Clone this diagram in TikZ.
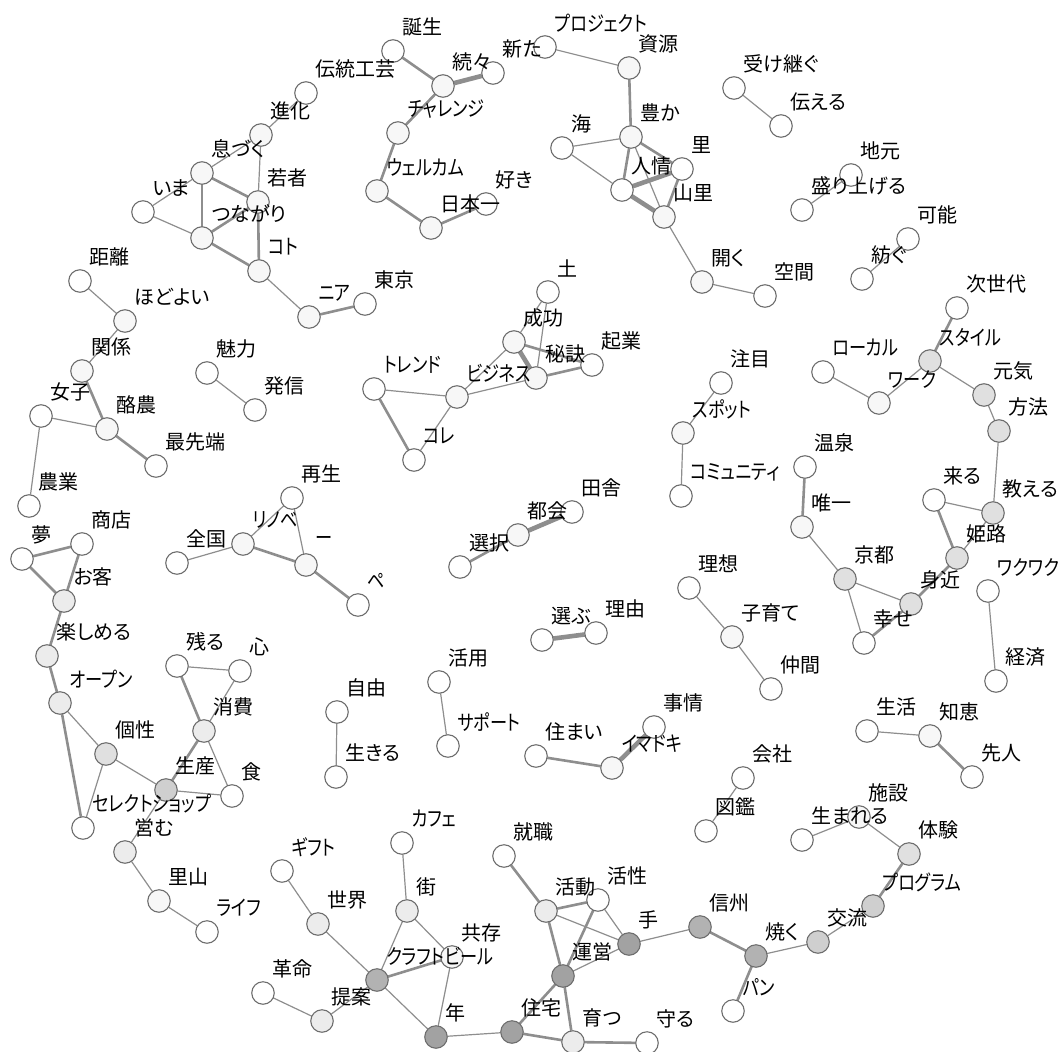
\documentclass[tikz,border=0pt]{standalone}
\usepackage{fontspec}
\newfontfamily\jpfont[RawFeature=+palt]{Noto Sans CJK JP}
\newfontfamily\kanafont[RawFeature=+palt, FakeStretch=0.82]{Noto Sans CJK JP}
\usetikzlibrary{backgrounds}
\pgfdeclarelayer{discs}
\pgfsetlayers{background,discs,main}
\definecolor{nodeline}{HTML}{6E6E6E}
\definecolor{edgegray}{HTML}{8E8E8E}
\definecolor{c0}{HTML}{FFFFFF}
\definecolor{c1}{HTML}{F7F7F7}
\definecolor{c2}{HTML}{ECECEC}
\definecolor{c3}{HTML}{E0E0E0}
\definecolor{c4}{HTML}{CFCFCF}
\definecolor{c5}{HTML}{B2B2B2}
\definecolor{c6}{HTML}{A2A2A2}
\tikzset{
  disc/.style={draw=nodeline, line width=1.1pt},
  term/.style={circle, minimum size=22.5pt, inner sep=0pt,
    append after command={\pgfextra{\begin{pgfonlayer}{discs}\draw[disc, fill=#1] (\tikzlastnode.center) circle[radius=11.25pt];\end{pgfonlayer}}}},
  kwtext/.style={font=\jpfont\fontsize{20}{20}\selectfont, inner sep=0pt, xshift=-2pt, yshift=24pt},
  kanatext/.style={kwtext, font=\kanafont\fontsize{21}{21}\selectfont},
  kw/.style 2 args={term=#1, label={[kwtext]0:#2}},
  kwk/.style 2 args={term=#1, label={[kanatext]0:#2}},
  wthin/.style={draw=edgegray, line width=1.2pt},
  wmid/.style={draw=edgegray, line width=2.6pt},
  wthick/.style={draw=edgegray, line width=4.6pt}
}

\begin{document}
\begin{tikzpicture}[x=1pt, y=-1pt]
  \useasboundingbox (0,0) rectangle (1061,1052);
  % upper left
  \node[kw={c0}{伝統工芸}] (dentou) at (306,93) {};
  \node[kw={c1}{進化}] (shinka) at (261,135) {};
  \node[kw={c1}{息づく}] (ikiduku) at (202,173) {};
  \node[kw={c1}{若者}] (wakamono) at (258,202) {};
  \node[kw={c0}{いま}] (ima) at (143,212) {};
  \node[kw={c1}{つながり}] (tsunagari) at (202,238) {};
  \node[kwk={c1}{コト}] (koto) at (259,271) {};
  \node[kwk={c1}{ニア}] (nia) at (309,317) {};
  \node[kw={c0}{東京}] (tokyo) at (365,304) {};
  \node[kw={c0}{距離}] (kyori) at (80,281) {};
  \node[kw={c1}{ほどよい}] (hodoyoi) at (125,321) {};
  \node[kw={c1}{関係}] (kankei) at (82,371) {};
  \node[kw={c0}{女子}] (joshi) at (41,416) {};
  \node[kw={c1}{酪農}] (rakunou) at (107,429) {};
  \node[kw={c0}{最先端}] (saisentan) at (156,466) {};
  \node[kw={c0}{農業}] (nougyou) at (29,506) {};
  \node[kw={c0}{魅力}] (miryoku) at (207,373) {};
  \node[kw={c0}{発信}] (hasshin) at (255,410) {};
  % renovation
  \node[kw={c0}{再生}] (saisei) at (292,498) {};
  \node[kw={c0}{全国}] (zenkoku) at (177,563) {};
  \node[kwk={c1}{リノベ}] (rinobe) at (243,544) {};
  \node[kwk={c1}{ー}] (bou) at (306,565) {};
  \node[kwk={c0}{ペ}] (pe) at (358,605) {};
  % left column
  \node[kw={c0}{夢}] (yume) at (22,559) {};
  \node[kw={c0}{商店}] (shouten) at (82,544) {};
  \node[kw={c2}{お客}] (okyaku) at (64,601) {};
  \node[kw={c2}{楽しめる}] (tanoshimu) at (47,656) {};
  \node[kwk={c2}{オープン}] (oupun) at (60,703) {};
  \node[kw={c3}{個性}] (kosei) at (106,754) {};
  \node[kwk={c0}{セレクトショップ}] (select) at (83,828) {};
  \node[kw={c4}{生産}] (seisan) at (166,790) {};
  \node[kw={c2}{消費}] (shouhi) at (204,731) {};
  \node[kw={c0}{残る}] (nokoru) at (177,666) {};
  \node[kw={c0}{心}] (kokoro) at (240,671) {};
  \node[kw={c0}{食}] (shoku) at (232,796) {};
  \node[kw={c2}{営む}] (itonamu) at (125,852) {};
  \node[kw={c1}{里山}] (satoyama) at (159,901) {};
  \node[kwk={c0}{ライフ}] (raifu) at (207,932) {};
  % challenge
  \node[kw={c0}{誕生}] (tanjou) at (393,51) {};
  \node[kw={c1}{続々}] (zokuzoku) at (443,86) {};
  \node[kw={c0}{新た}] (arata) at (493,73) {};
  \node[kwk={c1}{チャレンジ}] (challenge) at (398,133) {};
  \node[kwk={c1}{ウェルカム}] (welcome) at (377,191) {};
  \node[kw={c1}{日本一}] (nihonichi) at (431,228) {};
  \node[kw={c0}{好き}] (suki) at (486,204) {};
  % resources
  \node[kwk={c0}{プロジェクト}] (project) at (545,47) {};
  \node[kw={c1}{資源}] (shigen) at (629,68) {};
  \node[kw={c1}{豊か}] (yutaka) at (631,137) {};
  \node[kw={c0}{海}] (umi) at (562,148) {};
  \node[kw={c0}{里}] (sato) at (682,169) {};
  \node[kw={c0}{人情}] (ninjou) at (622,190) {};
  \node[kw={c1}{山里}] (yamazato) at (664,217) {};
  \node[kw={c1}{開く}] (hiraku) at (702,282) {};
  \node[kw={c0}{空間}] (kuukan) at (765,296) {};
  % upper right
  \node[kw={c0}{受け継ぐ}] (uketsugu) at (734,88) {};
  \node[kw={c0}{伝える}] (tsutaeru) at (781,126) {};
  \node[kw={c0}{地元}] (jimoto) at (851,175) {};
  \node[kw={c0}{盛り上げる}] (moriageru) at (802,210) {};
  \node[kw={c0}{可能}] (kanou) at (908,239) {};
  \node[kw={c0}{紡ぐ}] (tsumugu) at (862,279) {};
  % business
  \node[kw={c0}{土}] (tsuchi) at (548,292) {};
  \node[kw={c1}{成功}] (seikou) at (514,342) {};
  \node[kw={c0}{起業}] (kigyou) at (592,365) {};
  \node[kw={c1}{秘訣}] (hiketsu) at (536,378) {};
  \node[kwk={c1}{ビジネス}] (business) at (457,397) {};
  \node[kwk={c0}{トレンド}] (trend) at (374,389) {};
  \node[kwk={c0}{コレ}] (kore) at (414,460) {};
  % centre
  \node[kw={c0}{田舎}] (inaka) at (572,512) {};
  \node[kw={c1}{都会}] (tokai) at (518,535) {};
  \node[kw={c0}{選択}] (sentaku) at (460,567) {};
  \node[kw={c0}{選ぶ}] (erabu) at (542,640) {};
  \node[kw={c0}{理由}] (riyuu) at (596,633) {};
  \node[kw={c0}{注目}] (chuumoku) at (721,383) {};
  \node[kwk={c1}{スポット}] (spot) at (683,433) {};
  \node[kwk={c0}{コミュニティ}] (community) at (681,496) {};
  \node[kw={c0}{理想}] (risou) at (689,588) {};
  \node[kw={c1}{子育て}] (kosodate) at (732,637) {};
  \node[kw={c0}{仲間}] (nakama) at (771,689) {};
  \node[kw={c0}{自由}] (jiyuu) at (337,712) {};
  \node[kw={c0}{生きる}] (ikiru) at (336,777) {};
  \node[kw={c0}{活用}] (katsuyou) at (439,682) {};
  \node[kwk={c0}{サポート}] (support) at (448,746) {};
  \node[kw={c0}{住まい}] (sumai) at (536,756) {};
  \node[kwk={c1}{イマドキ}] (imadoki) at (612,768) {};
  \node[kw={c0}{事情}] (jijou) at (654,727) {};
  % right
  \node[kwk={c0}{ローカル}] (local) at (823,372) {};
  \node[kwk={c1}{ワーク}] (work) at (879,403) {};
  \node[kwk={c3}{スタイル}] (style) at (930,361) {};
  \node[kw={c0}{次世代}] (jisedai) at (957,308) {};
  \node[kw={c3}{元気}] (genki) at (984,395) {};
  \node[kw={c3}{方法}] (houhou) at (999,431) {};
  \node[kw={c3}{教える}] (oshieru) at (993,513) {};
  \node[kw={c0}{来る}] (kuru) at (934,500) {};
  \node[kw={c3}{姫路}] (himeji) at (957,558) {};
  \node[kw={c3}{身近}] (midika) at (911,604) {};
  \node[kw={c3}{京都}] (kyoto) at (845,579) {};
  \node[kw={c0}{幸せ}] (shiawase) at (864,643) {};
  \node[kw={c1}{唯一}] (yuiitsu) at (802,527) {};
  \node[kw={c0}{温泉}] (onsen) at (805,467) {};
  \node[kwk={c0}{ワクワク}] (wakuwaku) at (988,591) {};
  \node[kw={c0}{経済}] (keizai) at (996,681) {};
  \node[kw={c0}{生活}] (seikatsu) at (867,731) {};
  \node[kw={c1}{知恵}] (chie) at (930,736) {};
  \node[kw={c0}{先人}] (senjin) at (972,777) {};
  \node[kw={c0}{会社}] (kaisha) at (743,778) {};
  \node[kw={c0}{図鑑}] (zukan) at (706,831) {};
  % bottom
  \node[kwk={c0}{ギフト}] (gift) at (282,871) {};
  \node[kw={c2}{世界}] (sekai) at (318,924) {};
  \node[kw={c0}{革命}] (kakumei) at (263,993) {};
  \node[kw={c2}{提案}] (teian) at (322,1021) {};
  \node[kwk={c5}{クラフトビール}] (craft) at (377,980) {};
  \node[kw={c1}{共存}] (kyouzon) at (452,957) {};
  \node[kw={c2}{街}] (machi) at (407,911) {};
  \node[kwk={c0}{カフェ}] (cafe) at (402,843) {};
  \node[kw={c6}{年}] (toshi) at (436,1037) {};
  \node[kw={c6}{住宅}] (juutaku) at (512,1032) {};
  \node[kw={c2}{育つ}] (sodatsu) at (573,1042) {};
  \node[kw={c0}{守る}] (mamoru) at (647,1043) {};
  \node[kw={c6}{運営}] (unei) at (563,976) {};
  \node[kw={c2}{活動}] (katsudou) at (546,911) {};
  \node[kw={c0}{活性}] (kassei) at (598,900) {};
  \node[kw={c0}{就職}] (shuushoku) at (504,856) {};
  \node[kw={c6}{手}] (te) at (629,944) {};
  \node[kw={c5}{信州}] (shinshuu) at (700,927) {};
  \node[kw={c5}{焼く}] (yaku) at (756,956) {};
  \node[kwk={c0}{パン}] (pan) at (733,1011) {};
  \node[kw={c4}{交流}] (kouryuu) at (818,942) {};
  \node[kwk={c4}{プログラム}] (program) at (873,906) {};
  \node[kw={c3}{体験}] (taiken) at (909,854) {};
  \node[kw={c1}{施設}] (shisetsu) at (859,817) {};
  \node[kw={c0}{生まれる}] (umareru) at (802,840) {};

  \begin{scope}[on background layer]
    \draw[wthin] (dentou) -- (shinka);
    \draw[wthin] (shinka) -- (ikiduku);
    \draw[wthin] (shinka) -- (wakamono);
    \draw[wthin] (ikiduku) -- (ima);
    \draw[wmid] (ikiduku) -- (wakamono);
    \draw[wmid] (ikiduku) -- (tsunagari);
    \draw[wthin] (ima) -- (tsunagari);
    \draw[wmid] (tsunagari) -- (wakamono);
    \draw[wmid] (tsunagari) -- (koto);
    \draw[wmid] (wakamono) -- (koto);
    \draw[wthin] (koto) -- (nia);
    \draw[wmid] (nia) -- (tokyo);
    \draw[wthin] (kyori) -- (hodoyoi);
    \draw[wthin] (hodoyoi) -- (kankei);
    \draw[wmid] (kankei) -- (rakunou);
    \draw[wthin] (joshi) -- (rakunou);
    \draw[wthin] (joshi) -- (nougyou);
    \draw[wmid] (rakunou) -- (saisentan);
    \draw[wthin] (miryoku) -- (hasshin);
    \draw[wthin] (zenkoku) -- (rinobe);
    \draw[wthin] (rinobe) -- (saisei);
    \draw[wthin] (saisei) -- (bou);
    \draw[wmid] (rinobe) -- (bou);
    \draw[wmid] (bou) -- (pe);
    \draw[wmid] (yume) -- (shouten);
    \draw[wmid] (yume) -- (okyaku);
    \draw[wmid] (shouten) -- (okyaku);
    \draw[wmid] (okyaku) -- (tanoshimu);
    \draw[wmid] (tanoshimu) -- (oupun);
    \draw[wthin] (oupun) -- (kosei);
    \draw[wmid] (oupun) -- (select);
    \draw[wthin] (kosei) -- (select);
    \draw[wthin] (kosei) -- (seisan);
    \draw[wmid] (shouhi) -- (seisan);
    \draw[wthin] (shouhi) -- (shoku);
    \draw[wthin] (seisan) -- (shoku);
    \draw[wthin] (seisan) -- (itonamu);
    \draw[wthin] (nokoru) -- (kokoro);
    \draw[wmid] (nokoru) -- (shouhi);
    \draw[wthin] (kokoro) -- (shouhi);
    \draw[wthin] (itonamu) -- (satoyama);
    \draw[wthin] (satoyama) -- (raifu);
    \draw[wmid] (tanjou) -- (zokuzoku);
    \draw[wthick] (zokuzoku) -- (arata);
    \draw[wmid] (zokuzoku) -- (challenge);
    \draw[wmid] (challenge) -- (welcome);
    \draw[wmid] (welcome) -- (nihonichi);
    \draw[wmid] (nihonichi) -- (suki);
    \draw[wthin] (project) -- (shigen);
    \draw[wmid] (shigen) -- (yutaka);
    \draw[wthin] (yutaka) -- (umi);
    \draw[wthin] (umi) -- (ninjou);
    \draw[wmid] (yutaka) -- (ninjou);
    \draw[wmid] (yutaka) -- (sato);
    \draw[wthin] (yutaka) -- (yamazato);
    \draw[wthick] (ninjou) -- (sato);
    \draw[wthick] (ninjou) -- (yamazato);
    \draw[wmid] (sato) -- (yamazato);
    \draw[wthin] (yamazato) -- (hiraku);
    \draw[wthin] (hiraku) -- (kuukan);
    \draw[wthin] (uketsugu) -- (tsutaeru);
    \draw[wthin] (jimoto) -- (moriageru);
    \draw[wthin] (kanou) -- (tsumugu);
    \draw[wthin] (tsuchi) -- (hiketsu);
    \draw[wthin] (tsuchi) -- (seikou);
    \draw[wthick] (seikou) -- (hiketsu);
    \draw[wthin] (seikou) -- (business);
    \draw[wmid] (seikou) -- (kigyou);
    \draw[wthin] (hiketsu) -- (business);
    \draw[wmid] (hiketsu) -- (kigyou);
    \draw[wthin] (trend) -- (business);
    \draw[wmid] (trend) -- (kore);
    \draw[wthin] (business) -- (kore);
    \draw[wthick] (inaka) -- (tokai);
    \draw[wmid] (tokai) -- (sentaku);
    \draw[wthick] (erabu) -- (riyuu);
    \draw[wthin] (chuumoku) -- (spot);
    \draw[wthin] (spot) -- (community);
    \draw[wthin] (risou) -- (kosodate);
    \draw[wthin] (kosodate) -- (nakama);
    \draw[wthin] (jiyuu) -- (ikiru);
    \draw[wthin] (katsuyou) -- (support);
    \draw[wmid] (sumai) -- (imadoki);
    \draw[wthick] (imadoki) -- (jijou);
    \draw[wthin] (local) -- (work);
    \draw[wthin] (work) -- (style);
    \draw[wmid] (jisedai) -- (style);
    \draw[wthin] (style) -- (genki);
    \draw[wthin] (genki) -- (houhou);
    \draw[wthin] (houhou) -- (oshieru);
    \draw[wthin] (oshieru) -- (kuru);
    \draw[wthin] (oshieru) -- (himeji);
    \draw[wmid] (kuru) -- (himeji);
    \draw[wmid] (himeji) -- (midika);
    \draw[wthin] (midika) -- (kyoto);
    \draw[wmid] (midika) -- (shiawase);
    \draw[wthin] (kyoto) -- (shiawase);
    \draw[wthin] (kyoto) -- (yuiitsu);
    \draw[wmid] (yuiitsu) -- (onsen);
    \draw[wthin] (wakuwaku) -- (keizai);
    \draw[wthin] (seikatsu) -- (chie);
    \draw[wmid] (chie) -- (senjin);
    \draw[wthin] (kaisha) -- (zukan);
    \draw[wthin] (gift) -- (sekai);
    \draw[wthin] (sekai) -- (craft);
    \draw[wthin] (kakumei) -- (teian);
    \draw[wthin] (teian) -- (craft);
    \draw[wmid] (craft) -- (kyouzon);
    \draw[wthin] (machi) -- (craft);
    \draw[wthin] (machi) -- (kyouzon);
    \draw[wthin] (cafe) -- (machi);
    \draw[wthin] (kyouzon) -- (toshi);
    \draw[wthin] (craft) -- (toshi);
    \draw[wthin] (toshi) -- (juutaku);
    \draw[wmid] (juutaku) -- (unei);
    \draw[wmid] (juutaku) -- (sodatsu);
    \draw[wmid] (unei) -- (sodatsu);
    \draw[wmid] (sodatsu) -- (mamoru);
    \draw[wmid] (shuushoku) -- (katsudou);
    \draw[wmid] (katsudou) -- (kassei);
    \draw[wmid] (katsudou) -- (unei);
    \draw[wthin] (katsudou) -- (te);
    \draw[wmid] (kassei) -- (unei);
    \draw[wthin] (kassei) -- (te);
    \draw[wthin] (unei) -- (te);
    \draw[wthin] (te) -- (shinshuu);
    \draw[wmid] (shinshuu) -- (yaku);
    \draw[wmid] (yaku) -- (pan);
    \draw[wthin] (yaku) -- (kouryuu);
    \draw[wthin] (kouryuu) -- (program);
    \draw[wmid] (program) -- (taiken);
    \draw[wthin] (taiken) -- (shisetsu);
    \draw[wthin] (shisetsu) -- (umareru);
  \end{scope}
\end{tikzpicture}
\end{document}
